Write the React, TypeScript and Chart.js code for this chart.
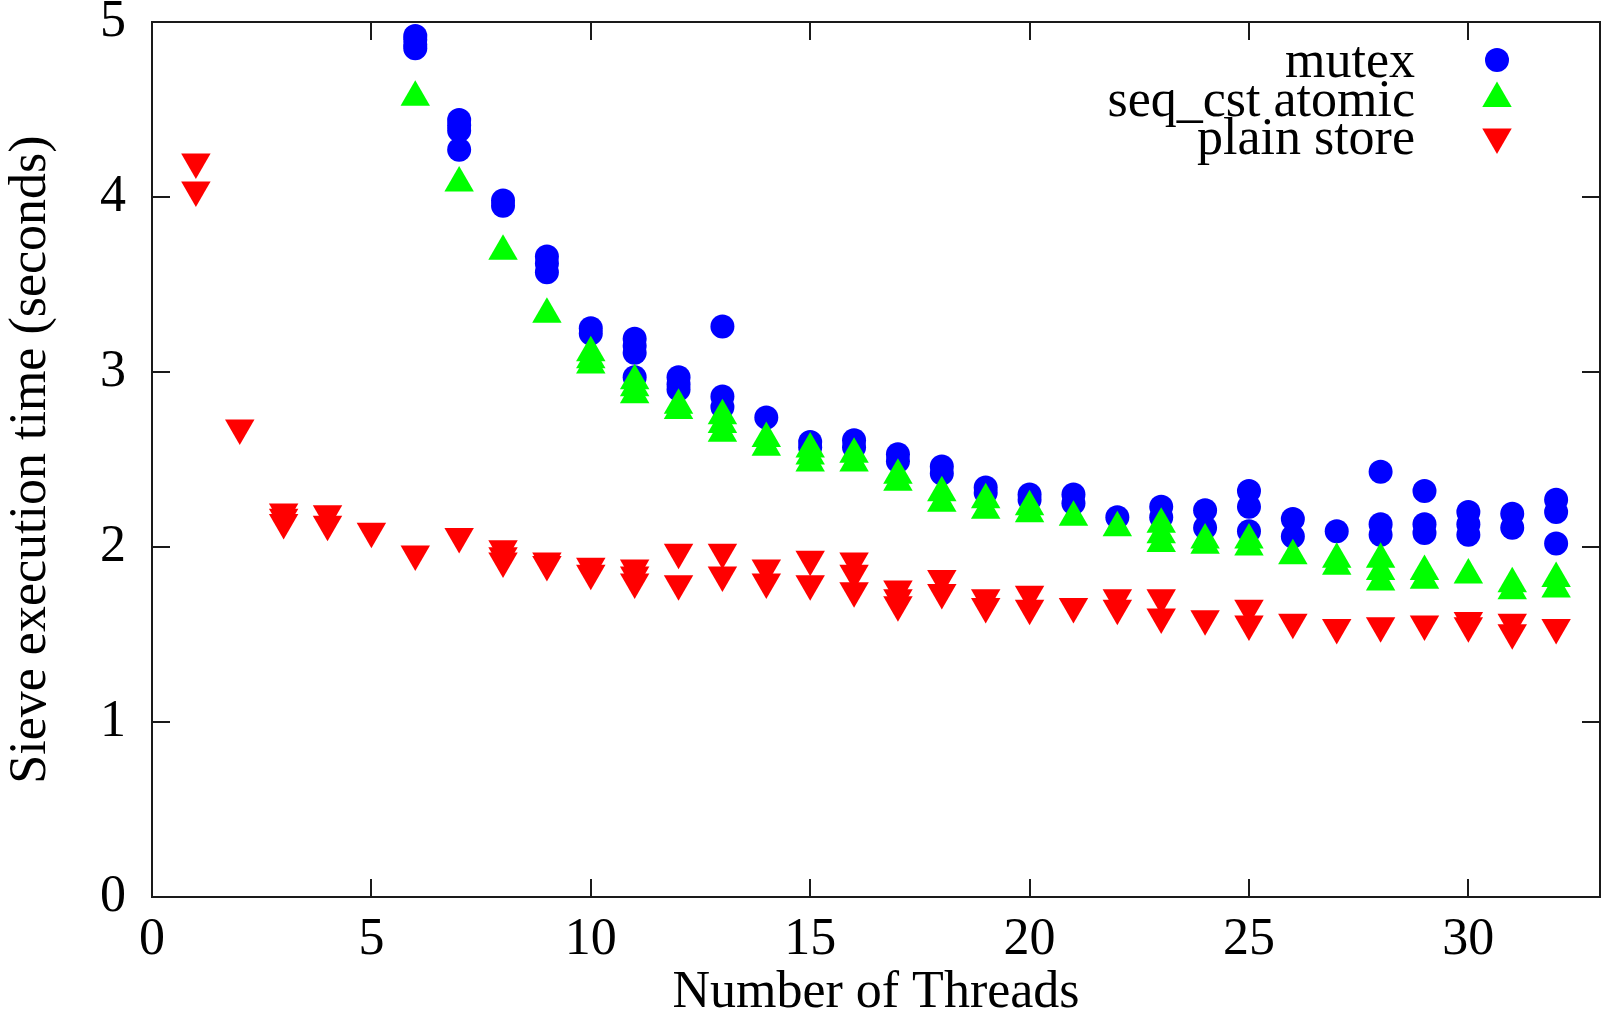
import React, { useEffect, useRef } from "react";
import { Chart, registerables } from "chart.js";
import { drawPoint } from "chart.js/helpers";

Chart.register(...registerables);

// ---------- data ----------
const threadCounts = [1, 2, 3, 4, 5, 6, 7, 8, 9, 10, 11, 12, 13, 14, 15, 16, 17, 18, 19, 20, 21, 22, 23, 24, 25, 26, 27, 28, 29, 30, 31, 32];

// several runs per thread count (seconds); values above 5 s are off the chart
const mutexTimes: number[][] = [
  [], [], [], [], [],
  [4.92, 4.9, 4.87, 4.85],
  [4.44, 4.41, 4.38, 4.27],
  [3.98, 3.95],
  [3.66, 3.62, 3.57],
  [3.25, 3.22],
  [3.19, 3.15, 3.11, 2.97],
  [2.97, 2.93, 2.9],
  [3.26, 2.86, 2.8],
  [2.74],
  [2.6, 2.57],
  [2.61, 2.57],
  [2.53, 2.49],
  [2.46, 2.42],
  [2.34, 2.31],
  [2.3, 2.27],
  [2.3, 2.25],
  [2.17],
  [2.23, 2.17],
  [2.21, 2.11],
  [2.32, 2.23, 2.09],
  [2.16, 2.06],
  [2.09],
  [2.43, 2.13, 2.07],
  [2.32, 2.13, 2.08],
  [2.2, 2.13, 2.07],
  [2.19, 2.11],
  [2.27, 2.2, 2.02],
];

const seqCstTimes: number[][] = [
  [], [], [], [], [],
  [4.57],
  [4.08],
  [3.69],
  [3.33],
  [3.11, 3.07, 3.04],
  [2.95, 2.91, 2.87],
  [2.81, 2.78],
  [2.75, 2.7, 2.65],
  [2.62, 2.57],
  [2.56, 2.52, 2.48],
  [2.53, 2.48],
  [2.41, 2.37],
  [2.31, 2.25],
  [2.27, 2.21],
  [2.23, 2.19],
  [2.17],
  [2.11],
  [2.13, 2.07, 2.02],
  [2.04, 2.01],
  [2.04, 2.0],
  [1.95],
  [1.93, 1.89],
  [1.93, 1.86, 1.8],
  [1.86, 1.81],
  [1.84],
  [1.79, 1.75],
  [1.82, 1.76],
];

const plainStoreTimes: number[][] = [
  [4.2, 4.04],
  [2.68],
  [2.2, 2.17, 2.14],
  [2.19, 2.13],
  [2.09],
  [1.96],
  [2.06],
  [1.99, 1.95, 1.92],
  [1.92, 1.9],
  [1.89, 1.85],
  [1.88, 1.84, 1.8],
  [1.97, 1.79],
  [1.97, 1.84],
  [1.88, 1.8],
  [1.93, 1.79],
  [1.92, 1.85, 1.75],
  [1.76, 1.71, 1.67],
  [1.82, 1.74],
  [1.71, 1.66],
  [1.73, 1.65],
  [1.66],
  [1.71, 1.65],
  [1.71, 1.6],
  [1.59],
  [1.65, 1.56],
  [1.57],
  [1.54],
  [1.55],
  [1.56],
  [1.58, 1.55],
  [1.57, 1.51],
  [1.54],
];

const seriesLabels = ["mutex", "seq_cst atomic", "plain store"];
const xTickValues = [0, 5, 10, 15, 20, 25, 30];
const yTickValues = [0, 1, 2, 3, 4, 5];
const xAxisTitle = "Number of Threads";
const yAxisTitle = "Sieve execution time (seconds)";

// ---------- styles ----------
const SERIF = "'Liberation Serif', 'Times New Roman', Times, serif";
const AXIS_COLOR = "#1a1a1a";
const COLORS = ["#0000ff", "#00ff00", "#ff0000"];
const TEXT_SIZE = 52;
const TICK_SIZE = 52;
const CIRCLE_R = 12;
const TRI_R = 17;

const toPoints = (runs: number[][]) =>
  threadCounts.flatMap((t, i) => (runs[i] || []).map((y) => ({ x: t, y })));

const keyPlugin = {
  id: "gnuplotKey",
  afterDraw(chart: any) {
    const ctx: CanvasRenderingContext2D = chart.ctx;
    const { right, top } = chart.chartArea;
    const textRight = right - 185;
    const markX = right - 103;
    chart.data.datasets.forEach((ds: any, i: number) => {
      const cy = top + 38 + i * 38.5;
      ctx.save();
      ctx.font = `${TEXT_SIZE}px ${SERIF}`;
      ctx.fillStyle = "#000";
      ctx.textAlign = "right";
      ctx.textBaseline = "alphabetic";
      ctx.fillText(ds.label, textRight, cy + 17);
      ctx.fillStyle = ds.backgroundColor;
      ctx.strokeStyle = ds.backgroundColor;
      drawPoint(
        ctx,
        {
          pointStyle: ds.pointStyle,
          rotation: ds.pointRotation || 0,
          radius: ds.pointRadius,
          borderWidth: 0,
        } as any,
        markX,
        cy
      );
      ctx.restore();
    });
  },
};

const fixSize = (w: number | null, h: number | null) => (s: any) => {
  if (w !== null) s.width = w;
  if (h !== null) s.height = h;
  s.paddingLeft = 0;
  s.paddingRight = 0;
  s.paddingTop = 0;
  s.paddingBottom = 0;
};

export default function App() {
  const ref = useRef<HTMLCanvasElement>(null);

  useEffect(() => {
    const canvas = ref.current;
    if (!canvas) return;

    const grid = () => ({
      display: true,
      drawOnChartArea: false,
      drawTicks: true,
      tickLength: -18,
      color: AXIS_COLOR,
      lineWidth: 2,
    });
    const border = { display: true, color: AXIS_COLOR, width: 2 };
    const setX = (s: any) => {
      s.ticks = xTickValues.map((v) => ({ value: v }));
    };
    const setY = (s: any) => {
      s.ticks = yTickValues.map((v) => ({ value: v }));
    };

    const chart = new Chart(canvas, {
      type: "scatter",
      data: {
        datasets: [
          {
            label: seriesLabels[0],
            data: toPoints(mutexTimes),
            pointStyle: "circle",
            pointRadius: CIRCLE_R,
            pointBorderWidth: 0,
            backgroundColor: COLORS[0],
            borderColor: COLORS[0],
            order: 3,
          },
          {
            label: seriesLabels[1],
            data: toPoints(seqCstTimes),
            pointStyle: "triangle",
            pointRadius: TRI_R,
            pointBorderWidth: 0,
            backgroundColor: COLORS[1],
            borderColor: COLORS[1],
            order: 2,
          },
          {
            label: seriesLabels[2],
            data: toPoints(plainStoreTimes),
            pointStyle: "triangle",
            pointRotation: 180,
            pointRadius: TRI_R,
            pointBorderWidth: 0,
            backgroundColor: COLORS[2],
            borderColor: COLORS[2],
            order: 1,
          },
        ] as any,
      },
      options: {
        animation: false,
        responsive: false,
        events: [],
        layout: { padding: 0, autoPadding: false },
        plugins: {
          legend: { display: false },
          tooltip: { enabled: false },
        },
        scales: {
          x: {
            type: "linear",
            position: "bottom",
            min: 0,
            max: 33,
            afterBuildTicks: setX,
            afterFit: fixSize(null, 122),
            grid: grid(),
            border,
            ticks: {
              padding: 30,
              color: "#000",
              maxRotation: 0,
              font: { family: SERIF, size: TICK_SIZE, lineHeight: 1.2 },
            },
            title: {
              display: true,
              text: xAxisTitle,
              color: "#000",
              font: { family: SERIF, size: TEXT_SIZE, lineHeight: 1 },
              padding: { top: 0, bottom: 0 },
            },
          },
          x2: {
            type: "linear",
            axis: "x",
            position: "top",
            min: 0,
            max: 33,
            afterBuildTicks: setX,
            afterFit: fixSize(null, 22),
            grid: grid(),
            border,
            ticks: { display: false },
          },
          y: {
            type: "linear",
            position: "left",
            min: 0,
            max: 5,
            afterBuildTicks: setY,
            afterFit: fixSize(152, null),
            grid: grid(),
            border,
            ticks: {
              padding: 44,
              color: "#000",
              font: { family: SERIF, size: TICK_SIZE, lineHeight: 1.2 },
            },
            title: {
              display: true,
              text: yAxisTitle,
              color: "#000",
              font: { family: SERIF, size: TEXT_SIZE, lineHeight: 1.2 },
              padding: { top: 0, bottom: 0 },
            },
          },
          y2: {
            type: "linear",
            axis: "y",
            position: "right",
            min: 0,
            max: 5,
            afterBuildTicks: setY,
            afterFit: fixSize(2, null),
            grid: grid(),
            border,
            ticks: { display: false },
          },
        },
      } as any,
      plugins: [keyPlugin],
    });

    return () => chart.destroy();
  }, []);

  return (
    <div style={{ position: "absolute", left: 0, top: 0, width: 1602, height: 1019, background: "#fff" }}>
      <canvas ref={ref} width={1602} height={1019} style={{ display: "block" }} />
    </div>
  );
}
